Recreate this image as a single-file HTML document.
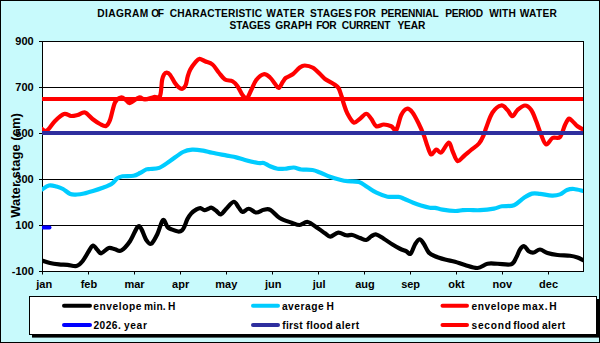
<!DOCTYPE html>
<html><head><meta charset="utf-8"><style>
html,body{margin:0;padding:0;background:#C8FAFC;}
svg{display:block;}
text{font-family:"Liberation Sans",sans-serif;font-weight:bold;fill:#000;}
.ax{font-size:11px;}
.ti{font-size:10.2px;}
.lg{font-size:10.2px;}
.yt{font-size:13px;}
</style></head><body>
<svg width="600" height="343" viewBox="0 0 600 343">
<rect x="0" y="0" width="600" height="343" fill="#C8FAFC"/>
<rect x="0.5" y="0.5" width="599" height="342" fill="none" stroke="#000" stroke-width="1"/>
<rect x="42" y="41" width="541" height="230" fill="#fff"/>
<line x1="42" y1="87.5" x2="583" y2="87.5" stroke="#000" stroke-width="1"/>
<line x1="42" y1="133.5" x2="583" y2="133.5" stroke="#000" stroke-width="1"/>
<line x1="42" y1="179.5" x2="583" y2="179.5" stroke="#000" stroke-width="1"/>
<line x1="42" y1="225.5" x2="583" y2="225.5" stroke="#000" stroke-width="1"/>
<rect x="42.5" y="41.5" width="541" height="230" fill="none" stroke="#000" stroke-width="1"/>
<line x1="39" y1="41.5" x2="42.5" y2="41.5" stroke="#000" stroke-width="1"/>
<text x="15.30" y="44.9" class="ax">900</text>
<line x1="39" y1="87.5" x2="42.5" y2="87.5" stroke="#000" stroke-width="1"/>
<text x="15.30" y="90.9" class="ax">700</text>
<line x1="39" y1="133.5" x2="42.5" y2="133.5" stroke="#000" stroke-width="1"/>
<text x="15.30" y="136.9" class="ax">500</text>
<line x1="39" y1="179.5" x2="42.5" y2="179.5" stroke="#000" stroke-width="1"/>
<text x="15.30" y="182.9" class="ax">300</text>
<line x1="39" y1="225.5" x2="42.5" y2="225.5" stroke="#000" stroke-width="1"/>
<text x="15.30" y="228.9" class="ax">100</text>
<line x1="39" y1="271.5" x2="42.5" y2="271.5" stroke="#000" stroke-width="1"/>
<text x="11.80" y="274.9" class="ax">-100</text>
<line x1="42.5" y1="271" x2="42.5" y2="274.5" stroke="#000" stroke-width="1"/>
<text x="36.30" y="287.6" class="ax">jan</text>
<line x1="88.5" y1="271" x2="88.5" y2="274.5" stroke="#000" stroke-width="1"/>
<text x="80.65" y="287.6" class="ax">feb</text>
<line x1="134.5" y1="271" x2="134.5" y2="274.5" stroke="#000" stroke-width="1"/>
<text x="124.38" y="287.6" class="ax">mar</text>
<line x1="180.5" y1="271" x2="180.5" y2="274.5" stroke="#000" stroke-width="1"/>
<text x="172.12" y="287.6" class="ax">apr</text>
<line x1="226.5" y1="271" x2="226.5" y2="274.5" stroke="#000" stroke-width="1"/>
<text x="215.34" y="287.6" class="ax">may</text>
<line x1="272.5" y1="271" x2="272.5" y2="274.5" stroke="#000" stroke-width="1"/>
<text x="264.95" y="287.6" class="ax">jun</text>
<line x1="318.5" y1="271" x2="318.5" y2="274.5" stroke="#000" stroke-width="1"/>
<text x="312.81" y="287.6" class="ax">jul</text>
<line x1="364.5" y1="271" x2="364.5" y2="274.5" stroke="#000" stroke-width="1"/>
<text x="355.16" y="287.6" class="ax">aug</text>
<line x1="410.5" y1="271" x2="410.5" y2="274.5" stroke="#000" stroke-width="1"/>
<text x="401.14" y="287.6" class="ax">sep</text>
<line x1="456.5" y1="271" x2="456.5" y2="274.5" stroke="#000" stroke-width="1"/>
<text x="448.25" y="287.6" class="ax">okt</text>
<line x1="502.5" y1="271" x2="502.5" y2="274.5" stroke="#000" stroke-width="1"/>
<text x="492.47" y="287.6" class="ax">nov</text>
<line x1="548.5" y1="271" x2="548.5" y2="274.5" stroke="#000" stroke-width="1"/>
<text x="539.08" y="287.6" class="ax">dec</text>
<defs><clipPath id="pc"><rect x="42" y="41.5" width="541" height="229.5"/></clipPath></defs><g clip-path="url(#pc)">
<path d="M42.00,260.50 C43.33,260.92 47.17,262.37 50.00,263.00 C52.83,263.63 56.08,264.00 59.00,264.30 C61.92,264.60 64.58,264.52 67.50,264.80 C70.42,265.08 74.00,266.59 76.50,266.00 C79.00,265.41 80.46,263.71 82.50,261.25 C84.54,258.79 87.00,253.88 88.75,251.25 C90.50,248.62 91.54,245.71 93.00,245.50 C94.46,245.29 96.12,248.71 97.50,250.00 C98.88,251.29 99.38,253.58 101.25,253.25 C103.12,252.92 106.46,248.67 108.75,248.00 C111.04,247.33 112.92,248.83 115.00,249.25 C117.08,249.67 118.75,251.83 121.25,250.50 C123.75,249.17 127.29,245.17 130.00,241.25 C132.71,237.33 135.62,229.08 137.50,227.00 C139.38,224.92 139.79,226.58 141.25,228.75 C142.71,230.92 144.58,237.50 146.25,240.00 C147.92,242.50 149.38,244.79 151.25,243.75 C153.12,242.71 155.54,237.71 157.50,233.75 C159.46,229.79 161.33,221.12 163.00,220.00 C164.67,218.88 166.07,225.43 167.50,227.00 C168.93,228.57 169.83,228.65 171.60,229.40 C173.37,230.15 176.37,231.33 178.10,231.50 C179.83,231.67 180.90,231.33 182.00,230.40 C183.10,229.47 183.82,227.75 184.70,225.90 C185.58,224.05 186.20,221.38 187.30,219.30 C188.40,217.22 189.77,215.05 191.30,213.40 C192.83,211.75 194.98,210.28 196.50,209.40 C198.02,208.52 199.08,207.98 200.40,208.10 C201.72,208.22 203.08,209.98 204.40,210.10 C205.72,210.22 207.10,209.20 208.30,208.80 C209.50,208.40 210.28,207.37 211.60,207.70 C212.92,208.03 214.67,209.68 216.20,210.80 C217.73,211.92 219.12,214.74 220.80,214.40 C222.48,214.06 224.09,210.86 226.25,208.75 C228.41,206.64 231.67,201.96 233.75,201.75 C235.83,201.54 237.29,205.79 238.75,207.50 C240.21,209.21 240.83,211.79 242.50,212.00 C244.17,212.21 246.46,208.67 248.75,208.75 C251.04,208.83 253.75,212.32 256.25,212.50 C258.75,212.68 261.41,210.25 263.75,209.80 C266.09,209.35 267.64,208.43 270.30,209.80 C272.96,211.17 276.13,215.85 279.70,218.00 C283.27,220.15 288.37,221.53 291.70,222.70 C295.03,223.87 297.03,225.12 299.70,225.00 C302.37,224.88 304.73,221.50 307.70,222.00 C310.67,222.50 314.62,226.12 317.50,228.00 C320.38,229.88 322.87,231.80 325.00,233.25 C327.13,234.70 328.08,236.79 330.30,236.70 C332.52,236.61 335.64,232.93 338.30,232.70 C340.96,232.47 343.88,234.92 346.25,235.30 C348.62,235.68 350.21,234.55 352.50,235.00 C354.79,235.45 357.71,237.17 360.00,238.00 C362.29,238.83 364.38,240.29 366.25,240.00 C368.12,239.71 369.58,237.17 371.25,236.25 C372.92,235.33 374.17,234.08 376.25,234.50 C378.33,234.92 381.04,237.08 383.75,238.75 C386.46,240.42 389.79,242.83 392.50,244.50 C395.21,246.17 397.71,247.62 400.00,248.75 C402.29,249.88 404.50,250.42 406.25,251.25 C408.00,252.08 409.04,254.88 410.50,253.75 C411.96,252.62 413.50,246.92 415.00,244.50 C416.50,242.08 418.04,239.38 419.50,239.25 C420.96,239.12 422.21,241.54 423.75,243.75 C425.29,245.96 426.88,250.42 428.75,252.50 C430.62,254.58 432.29,255.08 435.00,256.25 C437.71,257.42 441.67,258.58 445.00,259.50 C448.33,260.42 451.67,260.83 455.00,261.75 C458.33,262.67 461.25,263.96 465.00,265.00 C468.75,266.04 473.75,268.21 477.50,268.00 C481.25,267.79 484.17,264.46 487.50,263.75 C490.83,263.04 493.54,263.67 497.50,263.75 C501.46,263.83 508.12,265.29 511.25,264.25 C514.38,263.21 514.79,259.96 516.25,257.50 C517.71,255.04 518.67,251.38 520.00,249.50 C521.33,247.62 522.79,245.96 524.25,246.25 C525.71,246.54 527.17,250.21 528.75,251.25 C530.33,252.29 531.88,252.79 533.75,252.50 C535.62,252.21 537.71,249.42 540.00,249.50 C542.29,249.58 544.58,252.08 547.50,253.00 C550.42,253.92 553.75,254.54 557.50,255.00 C561.25,255.46 566.67,255.33 570.00,255.75 C573.33,256.17 575.33,256.79 577.50,257.50 C579.67,258.21 582.08,259.58 583.00,260.00" fill="none" stroke="#000" stroke-width="4.2" stroke-linejoin="round" stroke-linecap="round"/>
<path d="M42.00,189.50 C43.17,188.83 46.58,186.00 49.00,185.50 C51.42,185.00 54.17,185.92 56.50,186.50 C58.83,187.08 60.71,187.75 63.00,189.00 C65.29,190.25 67.92,193.08 70.25,194.00 C72.58,194.92 74.71,194.58 77.00,194.50 C79.29,194.42 81.33,194.08 84.00,193.50 C86.67,192.92 90.00,191.92 93.00,191.00 C96.00,190.08 98.92,189.17 102.00,188.00 C105.08,186.83 109.00,185.58 111.50,184.00 C114.00,182.42 115.17,179.78 117.00,178.50 C118.83,177.22 119.75,176.76 122.50,176.30 C125.25,175.84 130.58,176.30 133.50,175.75 C136.42,175.20 137.85,174.06 140.00,173.00 C142.15,171.94 144.73,170.07 146.40,169.40 C148.07,168.73 147.87,169.25 150.00,169.00 C152.13,168.75 155.87,169.23 159.20,167.90 C162.53,166.57 166.03,163.65 170.00,161.00 C173.97,158.35 179.30,153.90 183.00,152.00 C186.70,150.10 188.83,149.83 192.20,149.60 C195.57,149.37 199.85,150.07 203.20,150.60 C206.55,151.13 208.33,151.97 212.30,152.80 C216.27,153.63 223.02,154.83 227.00,155.60 C230.98,156.37 233.20,156.67 236.20,157.40 C239.20,158.13 241.33,159.07 245.00,160.00 C248.67,160.93 255.07,162.50 258.20,163.00 C261.32,163.50 261.78,162.46 263.75,163.00 C265.72,163.54 267.71,165.29 270.00,166.25 C272.29,167.21 275.00,168.33 277.50,168.75 C280.00,169.17 282.29,168.96 285.00,168.75 C287.71,168.54 291.04,167.38 293.75,167.50 C296.46,167.62 298.12,169.08 301.25,169.50 C304.38,169.92 309.38,169.50 312.50,170.00 C315.62,170.50 317.08,171.38 320.00,172.50 C322.92,173.62 326.67,175.54 330.00,176.75 C333.33,177.96 337.08,179.01 340.00,179.75 C342.92,180.49 344.33,180.84 347.50,181.20 C350.67,181.56 355.70,180.93 359.00,181.90 C362.30,182.87 364.38,185.20 367.30,187.00 C370.22,188.80 373.13,191.08 376.50,192.70 C379.87,194.32 383.83,196.00 387.50,196.70 C391.17,197.40 395.75,196.57 398.50,196.90 C401.25,197.23 401.55,197.72 404.00,198.70 C406.45,199.67 410.37,201.62 413.20,202.75 C416.03,203.88 418.25,204.68 421.00,205.50 C423.75,206.32 427.33,207.30 429.70,207.70 C432.07,208.10 433.07,207.57 435.20,207.90 C437.33,208.23 439.15,209.18 442.50,209.70 C445.85,210.22 451.93,210.93 455.30,211.00 C458.67,211.07 460.25,210.27 462.70,210.10 C465.15,209.93 467.12,209.98 470.00,210.00 C472.88,210.02 476.00,210.43 480.00,210.20 C484.00,209.97 490.33,209.25 494.00,208.60 C497.67,207.95 498.67,206.87 502.00,206.30 C505.33,205.73 510.33,206.62 514.00,205.20 C517.67,203.78 521.00,199.73 524.00,197.80 C527.00,195.87 529.33,194.27 532.00,193.60 C534.67,192.93 536.67,193.47 540.00,193.80 C543.33,194.13 548.67,195.50 552.00,195.60 C555.33,195.70 557.50,195.33 560.00,194.40 C562.50,193.47 564.67,190.90 567.00,190.00 C569.33,189.10 571.33,188.83 574.00,189.00 C576.67,189.17 581.50,190.67 583.00,191.00" fill="none" stroke="#00CCFF" stroke-width="4.2" stroke-linejoin="round" stroke-linecap="round"/>
<path d="M42.00,129.00 C42.83,129.25 44.83,131.83 47.00,130.50 C49.17,129.17 52.17,123.75 55.00,121.00 C57.83,118.25 61.33,114.83 64.00,114.00 C66.67,113.17 68.75,115.83 71.00,116.00 C73.25,116.17 75.17,115.58 77.50,115.00 C79.83,114.42 82.50,111.83 85.00,112.50 C87.50,113.17 90.00,117.08 92.50,119.00 C95.00,120.92 97.75,122.83 100.00,124.00 C102.25,125.17 104.33,126.67 106.00,126.00 C107.67,125.33 108.50,123.92 110.00,120.00 C111.50,116.08 113.17,106.25 115.00,102.50 C116.83,98.75 119.17,97.92 121.00,97.50 C122.83,97.08 124.50,99.08 126.00,100.00 C127.50,100.92 127.83,103.42 130.00,103.00 C132.17,102.58 136.50,98.08 139.00,97.50 C141.50,96.92 142.50,99.58 145.00,99.50 C147.50,99.42 151.50,97.58 154.00,97.00 C156.50,96.42 158.65,98.83 160.00,96.00 C161.35,93.17 161.43,83.58 162.10,80.00 C162.77,76.42 163.23,75.72 164.00,74.50 C164.77,73.28 165.70,72.67 166.70,72.70 C167.70,72.73 168.68,73.07 170.00,74.70 C171.32,76.33 173.18,80.43 174.60,82.50 C176.02,84.57 177.20,86.05 178.50,87.10 C179.80,88.15 181.20,89.15 182.40,88.80 C183.60,88.45 184.82,87.05 185.70,85.00 C186.58,82.95 186.93,79.07 187.70,76.50 C188.47,73.93 189.00,71.98 190.30,69.60 C191.60,67.22 193.97,63.98 195.50,62.20 C197.03,60.42 197.92,59.06 199.50,58.90 C201.08,58.74 202.83,60.32 205.00,61.25 C207.17,62.18 210.21,62.62 212.50,64.50 C214.79,66.38 216.67,70.00 218.75,72.50 C220.83,75.00 222.71,78.04 225.00,79.50 C227.29,80.96 230.42,80.12 232.50,81.25 C234.58,82.38 235.83,83.96 237.50,86.25 C239.17,88.54 240.92,93.04 242.50,95.00 C244.08,96.96 245.54,98.83 247.00,98.00 C248.46,97.17 249.71,93.00 251.25,90.00 C252.79,87.00 254.17,82.62 256.25,80.00 C258.33,77.38 261.46,74.67 263.75,74.25 C266.04,73.83 268.12,75.92 270.00,77.50 C271.88,79.08 273.54,82.00 275.00,83.75 C276.46,85.50 277.42,88.38 278.75,88.00 C280.08,87.62 281.79,83.20 283.00,81.50 C284.21,79.80 284.38,79.02 286.00,77.80 C287.62,76.58 290.50,75.88 292.75,74.20 C295.00,72.53 297.50,69.20 299.50,67.75 C301.50,66.30 302.50,65.50 304.75,65.50 C307.00,65.50 310.38,66.25 313.00,67.75 C315.62,69.25 318.50,72.62 320.50,74.50 C322.50,76.38 322.75,77.38 325.00,79.00 C327.25,80.62 331.75,82.75 334.00,84.25 C336.25,85.75 337.25,86.04 338.50,88.00 C339.75,89.96 340.62,93.38 341.50,96.00 C342.38,98.62 342.75,100.79 343.75,103.75 C344.75,106.71 345.83,110.62 347.50,113.75 C349.17,116.88 351.67,121.67 353.75,122.50 C355.83,123.33 357.92,120.21 360.00,118.75 C362.08,117.29 364.38,113.75 366.25,113.75 C368.12,113.75 369.58,116.67 371.25,118.75 C372.92,120.83 374.17,125.29 376.25,126.25 C378.33,127.21 381.25,124.50 383.75,124.50 C386.25,124.50 389.17,125.33 391.25,126.25 C393.33,127.17 394.58,131.88 396.25,130.00 C397.92,128.12 399.46,118.54 401.25,115.00 C403.04,111.46 405.12,109.17 407.00,108.75 C408.88,108.33 410.54,110.00 412.50,112.50 C414.46,115.00 416.88,120.00 418.75,123.75 C420.62,127.50 422.29,131.25 423.75,135.00 C425.21,138.75 426.25,143.00 427.50,146.25 C428.75,149.50 429.79,153.96 431.25,154.50 C432.71,155.04 434.58,149.83 436.25,149.50 C437.92,149.17 439.17,153.67 441.25,152.50 C443.33,151.33 446.88,142.75 448.75,142.50 C450.62,142.25 451.04,147.92 452.50,151.00 C453.96,154.08 455.58,160.17 457.50,161.00 C459.42,161.83 461.75,157.83 464.00,156.00 C466.25,154.17 468.50,152.08 471.00,150.00 C473.50,147.92 476.88,146.00 479.00,143.50 C481.12,141.00 482.54,137.67 483.75,135.00 C484.96,132.33 484.79,131.25 486.25,127.50 C487.71,123.75 490.00,116.17 492.50,112.50 C495.00,108.83 498.75,105.92 501.25,105.50 C503.75,105.08 505.62,108.21 507.50,110.00 C509.38,111.79 510.83,116.25 512.50,116.25 C514.17,116.25 515.42,111.79 517.50,110.00 C519.58,108.21 522.71,105.50 525.00,105.50 C527.29,105.50 529.38,107.38 531.25,110.00 C533.12,112.62 534.58,117.08 536.25,121.25 C537.92,125.42 539.58,131.12 541.25,135.00 C542.92,138.88 544.38,144.00 546.25,144.50 C548.12,145.00 550.21,139.25 552.50,138.00 C554.79,136.75 557.92,139.17 560.00,137.00 C562.08,134.83 563.54,128.04 565.00,125.00 C566.46,121.96 567.50,119.38 568.75,118.75 C570.00,118.12 571.04,120.00 572.50,121.25 C573.96,122.50 575.75,124.88 577.50,126.25 C579.25,127.62 582.08,128.96 583.00,129.50" fill="none" stroke="#FF0000" stroke-width="4.2" stroke-linejoin="round" stroke-linecap="round"/>
<line x1="43.5" y1="227.5" x2="49.5" y2="227.5" stroke="#0000FF" stroke-width="4" stroke-linecap="round"/>
<line x1="42" y1="133" x2="583" y2="133" stroke="#2E2E9E" stroke-width="4"/>
<line x1="42" y1="99" x2="583" y2="99" stroke="#FF0000" stroke-width="4"/>
</g>
<text x="97.15" y="16.8" class="ti" style="letter-spacing:0.425px">DIAGRAM</text>
<text x="151.20" y="16.8" class="ti" style="letter-spacing:-1.250px">OF</text>
<text x="169.70" y="16.8" class="ti" style="letter-spacing:0.135px">CHARACTERISTIC</text>
<text x="266.30" y="16.8" class="ti" style="letter-spacing:0.562px">WATER</text>
<text x="310.05" y="16.8" class="ti" style="letter-spacing:0.180px">STAGES</text>
<text x="354.25" y="16.8" class="ti" style="letter-spacing:0.100px">FOR</text>
<text x="380.95" y="16.8" class="ti" style="letter-spacing:-0.144px">PERENNIAL</text>
<text x="445.25" y="16.8" class="ti" style="letter-spacing:-0.260px">PERIOD</text>
<text x="489.30" y="16.8" class="ti" style="letter-spacing:0.167px">WITH</text>
<text x="519.70" y="16.8" class="ti" style="letter-spacing:0.312px">WATER</text>
<text x="229.45" y="28.8" class="ti" style="letter-spacing:0.020px">STAGES</text>
<text x="275.20" y="28.8" class="ti" style="letter-spacing:0.062px">GRAPH</text>
<text x="316.25" y="28.8" class="ti" style="letter-spacing:-0.600px">FOR</text>
<text x="341.80" y="28.8" class="ti" style="letter-spacing:-0.208px">CURRENT</text>
<text x="397.45" y="28.8" class="ti" style="letter-spacing:-0.150px">YEAR</text>
<text transform="translate(19.8,217.8) rotate(-90)" class="yt" textLength="104.7" lengthAdjust="spacing">Water stage (cm)</text>
<rect x="32" y="299" width="567" height="38.6" fill="#000"/>
<rect x="29.5" y="296.5" width="567" height="38" fill="#fff" stroke="#000" stroke-width="1"/>
<line x1="64" y1="305.8" x2="90" y2="305.8" stroke="#000" stroke-width="4" stroke-linecap="round"/>
<line x1="253" y1="305.8" x2="278" y2="305.8" stroke="#00CCFF" stroke-width="4" stroke-linecap="round"/>
<line x1="442.5" y1="305.8" x2="467" y2="305.8" stroke="#FF0000" stroke-width="4" stroke-linecap="round"/>
<line x1="64" y1="324.9" x2="90" y2="324.9" stroke="#0000FF" stroke-width="4" stroke-linecap="round"/>
<line x1="253" y1="324.9" x2="278" y2="324.9" stroke="#2E2E9E" stroke-width="4" stroke-linecap="round"/>
<line x1="442.5" y1="324.9" x2="467" y2="324.9" stroke="#FF0000" stroke-width="4" stroke-linecap="round"/>
<text x="93.25" y="309.7" class="ti" style="letter-spacing:0.571px">envelope</text>
<text x="144.00" y="309.7" class="ti" style="letter-spacing:0.250px">min.</text>
<text x="168.00" y="309.7" class="ti" style="letter-spacing:0.000px">H</text>
<text x="93.50" y="328.7" class="ti" style="letter-spacing:0.438px">2026.</text>
<text x="123.95" y="328.7" class="ti" style="letter-spacing:0.667px">year</text>
<text x="281.95" y="309.7" class="ti" style="letter-spacing:0.517px">average</text>
<text x="326.45" y="309.7" class="ti" style="letter-spacing:0.000px">H</text>
<text x="282.25" y="328.7" class="ti" style="letter-spacing:0.312px">first</text>
<text x="306.25" y="328.7" class="ti" style="letter-spacing:0.375px">flood</text>
<text x="335.50" y="328.7" class="ti" style="letter-spacing:0.500px">alert</text>
<text x="471.50" y="309.7" class="ti" style="letter-spacing:0.579px">envelope</text>
<text x="522.25" y="309.7" class="ti" style="letter-spacing:0.683px">max.</text>
<text x="549.35" y="309.7" class="ti" style="letter-spacing:0.000px">H</text>
<text x="471.50" y="328.7" class="ti" style="letter-spacing:0.740px">second</text>
<text x="513.25" y="328.7" class="ti" style="letter-spacing:0.275px">flood</text>
<text x="542.00" y="328.7" class="ti" style="letter-spacing:0.425px">alert</text>
</svg>
</body></html>
